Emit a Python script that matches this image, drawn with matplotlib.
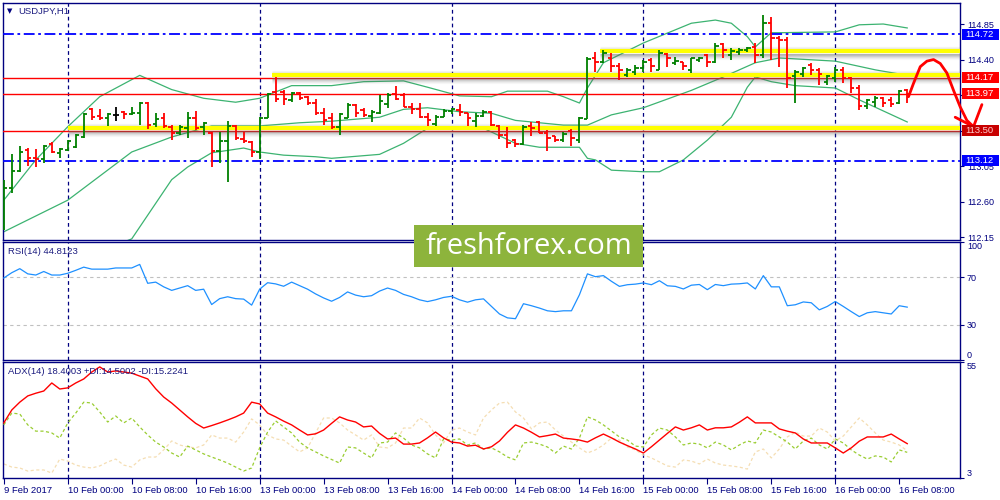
import numpy as np
import matplotlib
matplotlib.use('Agg')
import matplotlib.pyplot as plt
from matplotlib.collections import LineCollection
from matplotlib.patches import Rectangle
import matplotlib.transforms as mtransforms

plt.rcParams['font.family'] = ['Liberation Sans', 'DejaVu Sans']

NAVY = '#000080'
TXT = '#1c1c80'

# ---------------- data ----------------
opens = [112.31,112.77,112.99,113.26,113.15,113.14,113.33,113.22,113.26,113.29,
 113.42,113.77,113.69,113.66,113.70,113.74,113.71,113.72,113.85,113.58,
 113.66,113.55,113.47,113.53,113.66,113.55,113.47,113.24,113.37,113.56,
 113.39,113.36,113.23,113.66,113.99,113.99,113.89,113.98,113.93,113.85,
 113.72,113.66,113.55,113.66,113.83,113.76,113.69,113.72,113.84,113.96,
 113.95,113.80,113.77,113.67,113.58,113.67,113.75,113.76,113.72,113.62,
 113.69,113.74,113.56,113.45,113.38,113.33,113.56,113.61,113.47,113.43,
 113.38,113.50,113.38,113.65,114.42,114.37,114.42,114.32,114.21,114.24,
 114.29,114.40,114.27,114.47,114.36,114.37,114.27,114.40,114.46,114.37,
 114.60,114.46,114.50,114.52,114.56,114.46,114.86,114.67,114.65,114.19,
 114.22,114.33,114.27,114.12,114.17,114.27,114.17,114.04,113.81,113.86,
 113.91,113.89,113.85,114.02]
highs = [112.88,113.21,113.31,113.28,113.27,113.32,113.36,113.28,113.38,113.46,
 113.72,113.79,113.77,113.72,113.80,113.75,113.80,113.86,113.86,113.72,
 113.72,113.57,113.57,113.74,113.75,113.61,113.48,113.48,113.62,113.57,
 113.48,113.37,113.67,113.98,114.18,114.02,113.99,113.99,113.94,113.90,
 113.79,113.72,113.72,113.85,113.84,113.79,113.76,113.95,113.98,114.07,
 113.98,113.85,113.85,113.72,113.70,113.77,113.79,113.84,113.72,113.72,
 113.76,113.75,113.57,113.55,113.39,113.57,113.61,113.62,113.51,113.43,
 113.48,113.52,113.67,114.43,114.50,114.52,114.48,114.36,114.29,114.33,
 114.40,114.42,114.52,114.48,114.43,114.37,114.42,114.43,114.47,114.61,
 114.61,114.55,114.55,114.56,114.61,114.96,114.94,114.70,114.69,114.27,
 114.31,114.36,114.29,114.21,114.31,114.31,114.18,114.08,113.90,113.94,
 113.93,113.93,114.02,114.03]
lows = [112.24,112.71,112.98,113.05,113.04,113.09,113.22,113.15,113.24,113.28,
 113.41,113.64,113.64,113.56,113.62,113.65,113.70,113.57,113.52,113.55,
 113.53,113.38,113.45,113.41,113.51,113.45,113.04,113.09,112.85,113.38,
 113.34,113.17,113.14,113.66,113.86,113.83,113.86,113.89,113.83,113.70,
 113.57,113.52,113.45,113.66,113.67,113.67,113.61,113.71,113.79,113.89,
 113.80,113.71,113.66,113.56,113.56,113.67,113.71,113.69,113.56,113.55,
 113.67,113.56,113.39,113.28,113.29,113.32,113.43,113.47,113.24,113.36,
 113.36,113.31,113.34,113.65,114.24,114.36,114.24,114.14,114.18,114.21,
 114.24,114.24,114.27,114.31,114.33,114.27,114.23,114.37,114.31,114.36,
 114.42,114.39,114.46,114.50,114.36,114.42,114.39,114.31,114.04,113.85,
 114.18,114.21,114.08,114.08,114.12,114.10,113.98,113.76,113.77,113.80,
 113.80,113.80,113.84,113.85]
closes = [112.77,112.99,113.23,113.15,113.14,113.31,113.23,113.27,113.37,113.45,
 113.71,113.67,113.66,113.71,113.70,113.71,113.72,113.85,113.57,113.65,
 113.56,113.47,113.55,113.66,113.53,113.60,113.24,113.37,113.56,113.41,
 113.37,113.23,113.66,113.96,113.90,113.90,113.98,113.91,113.85,113.72,
 113.64,113.55,113.71,113.83,113.72,113.70,113.74,113.88,113.95,113.90,
 113.80,113.77,113.67,113.64,113.67,113.75,113.77,113.74,113.66,113.69,
 113.74,113.57,113.45,113.34,113.33,113.55,113.53,113.47,113.41,113.38,
 113.46,113.41,113.66,114.41,114.37,114.48,114.32,114.27,114.27,114.29,
 114.37,114.32,114.48,114.42,114.38,114.32,114.42,114.42,114.37,114.57,
 114.52,114.51,114.52,114.55,114.46,114.86,114.67,114.65,114.17,114.24,
 114.29,114.27,114.22,114.19,114.27,114.17,114.04,113.81,113.89,113.91,
 113.85,113.84,114.00,113.97]

# Bollinger bands (bar index, price)
bb_up_x = [0, 4, 8, 12, 17, 21, 25, 29, 32, 36, 41, 45, 50, 53, 57, 61, 63, 68, 70, 72, 73,
           75, 80, 86, 89, 91, 93, 94, 96, 97, 104, 107, 110, 113]
bb_up = [112.62, 113.13, 113.55, 113.93, 114.20, 114.02, 113.91, 113.86, 113.91, 114.07, 114.07,
         114.12, 114.13, 114.05, 113.94, 113.93, 114.00, 114.00, 113.93, 113.85, 114.04,
         114.36, 114.61, 114.86, 114.90, 114.86, 114.69, 114.56, 114.74, 114.74, 114.75,
         114.84, 114.85, 114.80]
bb_mid_x = [0, 8, 16, 21, 26, 32, 37, 41, 47, 50, 53, 57, 61, 64, 70, 73, 76, 80, 86, 90, 94,
            97, 104, 109, 113]
bb_mid = [112.22, 112.62, 113.23, 113.42, 113.56, 113.56, 113.60, 113.62, 113.67, 113.77,
          113.79, 113.74, 113.72, 113.63, 113.57, 113.57, 113.70, 113.79, 114.01, 114.18,
          114.36, 114.42, 114.38, 114.27, 114.20]
bb_lo_x = [0, 4, 8, 12, 16, 21, 23, 26, 30, 32, 35, 39, 41, 47, 50, 53, 56, 60, 64, 67, 72, 73,
           74, 76, 80, 82, 85, 88, 91, 93, 94, 96, 99, 104, 107, 113]
bb_lo = [111.82, 111.70, 111.69, 111.97, 112.13, 112.88, 113.04, 113.22, 113.28, 113.23,
         113.19, 113.17, 113.15, 113.20, 113.34, 113.53, 113.53, 113.53, 113.34, 113.29,
         113.29, 113.15, 113.13, 113.00, 112.98, 112.98, 113.13, 113.38, 113.67, 114.05,
         114.18, 114.12, 114.07, 114.04, 113.89, 113.61]

rsi = [69.5, 74, 77.4, 73, 72, 75, 72, 72, 73.5, 76, 78.7, 77, 77, 77, 78, 78, 78, 81, 65, 66,
       62, 59, 61, 63, 59, 60, 47, 52, 53.6, 52, 51.6, 46.5, 60, 65.5, 64.5, 62.5, 66, 63, 60, 56,
       52.6, 49.8, 53, 57.7, 55, 53.6, 54.5, 58.4, 61, 59, 55.6, 53.6, 51, 49.5, 51, 53, 54, 51, 49, 51,
       51.8, 45.4, 39, 35.7, 35, 47.7, 46, 44, 41.7, 41, 41.7, 41.7, 55.3, 73, 70.6, 71.5, 66.7, 62.4,
       63.8, 64.3, 65.3, 63.8, 67.2, 62.9, 62.4, 60.2, 63.4, 64, 59.6, 64, 63, 64.3, 64.6, 65.3, 60.2,
       71.5, 62, 62, 46, 46.8, 49.2, 48.5, 42.5, 45.4, 49.6, 45.4, 41, 36.8, 40, 41, 40, 39, 46, 44.8]

adx = [27.7, 33.5, 37, 39.8, 41, 42, 45.6, 42.9, 43.4, 45.6, 47.4, 50.5, 52.8, 50.5, 51, 50.5, 50,
       48.7, 47.4, 43, 39.3, 36.6, 33.5, 30.4, 27.5, 25.4, 26.5, 27.7, 29, 30.4, 32.1, 37, 36.2,
       32.1, 30.4, 28.5, 26.8, 24.5, 22.3, 22.8, 24.5, 27.5, 30.4, 29, 28.1, 25.9, 26.3, 23, 20.5,
       20.9, 18.2, 18.2, 18.7, 21, 23.6, 21, 19.1, 18.7, 17.3, 17.7, 16, 17, 19.6, 23.5, 26.8, 25.4,
       23.5, 21.4, 22, 22.7, 20.9, 20.5, 20, 19.1, 21, 22.7, 21, 19.1, 17.5, 16, 14.2, 17, 20, 23,
       25.9, 24.5, 25.5, 26.8, 24.5, 25.5, 25.5, 25.9, 28, 30.4, 27.7, 27.7, 27.7, 25, 24, 23.2,
       20.5, 18.7, 18.7, 18.7, 16.5, 14.2, 16.5, 19.5, 21.4, 21.4, 21.4, 22.7, 20.5, 18.4]
plus_di = [26.8, 32.1, 31.7, 26.8, 24, 24, 23.2, 20.9, 27.7, 32.1, 37, 36.6, 32.6, 28.1, 30.8,
           27.7, 29.9, 25.9, 22.3, 19.1, 16.9, 14.2, 12.4, 17.3, 15.6, 13.8, 12.4, 11.1, 9.7, 7.9,
           6.1, 7.5, 16.5, 23.6, 28.6, 25.9, 23.2, 19.1, 16.5, 14.7, 12.9, 11.3, 9.7, 16.9, 16.5,
           14.2, 12, 18.7, 19.1, 23.2, 20.9, 17.8, 16.5, 13.8, 12, 20.5, 20, 20.5, 17.8, 18.7, 16,
           16.5, 14.7, 12.4, 11.1, 18.7, 19.1, 18.2, 16.9, 14.2, 17.3, 16, 20.9, 30.4, 29, 26.8,
           24.1, 21.4, 20, 17.3, 16.9, 22.3, 25.4, 24.5, 21.4, 17.8, 18.7, 18.2, 16.5, 19.1, 17.8,
           15.6, 17.8, 19.6, 18.7, 24.5, 23.6, 21.4, 19.1, 16, 19.6, 20.9, 17.8, 16, 20.5, 18.7,
           15.6, 13.3, 11.5, 12.9, 12.4, 10.2, 15.6, 14.5]
minus_di = [9.3, 7.9, 7.5, 6.1, 6.6, 6.6, 5.2, 11.5, 10.6, 8.8, 7.9, 7.5, 8.4, 10.2, 11.5, 8.8,
            7.9, 11.1, 12.4, 12.4, 15.6, 19.6, 17.8, 16.9, 16.5, 17.8, 22.3, 20.9, 20.9, 19.1, 23.6,
            29.5, 26.8, 22.3, 20.5, 20, 17.3, 14.7, 16.5, 23.2, 29.9, 29.9, 27.7, 24.5, 22.3, 20,
            22.3, 16.9, 16.5, 18.7, 25.4, 25.4, 29.9, 27.7, 22.3, 18.7, 24.5, 25.4, 23.6, 22.3,
            29.9, 33.5, 36.6, 37, 32.6, 29.9, 25, 27.7, 28.1, 24.5, 21.8, 19.1, 16.5, 14.2, 15.6,
            17.8, 20.9, 20, 16.9, 15.6, 13.3, 12, 10.2, 8.4, 7.9, 11.1, 10.6, 9.3, 11.5, 9.7, 8.8,
            8.4, 7.9, 7, 14.7, 16, 12, 16, 21.4, 23.6, 21.8, 21.8, 25.4, 23.6, 19.6, 21.8, 25.9,
            29.9, 26.8, 23.2, 20, 19.1, 17.8, 15.2]

date_label_bars = [0, 8, 16, 24, 32, 40, 48, 56, 64, 72, 80, 88, 96, 104, 112]
date_labels = ['9 Feb 2017', '10 Feb 00:00', '10 Feb 08:00', '10 Feb 16:00', '13 Feb 00:00',
               '13 Feb 08:00', '13 Feb 16:00', '14 Feb 00:00', '14 Feb 08:00', '14 Feb 16:00',
               '15 Feb 00:00', '15 Feb 08:00', '15 Feb 16:00', '16 Feb 00:00', '16 Feb 08:00']
day_separators = [8, 32, 56, 80, 104]

price_ticks = [114.85, 114.40, 113.95, 113.50, 113.05, 112.60, 112.15]
hidden_price_ticks = [113.95, 113.50]   # covered by the price boxes in the reference
red_levels = [114.17, 113.97, 113.50]
blue_levels = [114.72, 113.12]
yellow_zones = [(114.51, 74.6), (114.20, 33.6), (113.54, 8.0)]   # (price, start bar)
price_boxes = [(114.72, '#0000ff', 'white'), (114.17, '#ff0000', 'white'),
               (113.97, '#ff0000', 'white'), (113.50, '#c80000', '#ffd0d0'),
               (113.12, '#0000ff', 'white')]
arrow_x = [113.16, 113.79, 114.63, 115.46, 116.29, 117.13, 117.96, 118.79, 119.63, 120.46, 121.29]
arrow_y = [113.93, 114.10, 114.31, 114.38, 114.40, 114.35, 114.23, 114.01, 113.80, 113.63, 113.55]
arrow_head = [(119.0, 113.67), (121.29, 113.55), (122.34, 113.83)]

# ---------------- figure ----------------
fig = plt.figure(figsize=(10, 5), dpi=100)
ax1 = fig.add_axes([0.003, 0.52, 0.957, 0.474])
ax2 = fig.add_axes([0.003, 0.28, 0.957, 0.236])
ax3 = fig.add_axes([0.003, 0.044, 0.957, 0.232])
XL = (-0.1, 119.6)
PX = 1.0 / 79.0   # price per pixel

for ax in (ax1, ax2, ax3):
    ax.set_xlim(*XL)
    for sp in ax.spines.values():
        sp.set_color(NAVY)
        sp.set_linewidth(1.0)
    ax.yaxis.tick_right()
    ax.tick_params(axis='y', direction='out', length=3, width=0.8, color=NAVY,
                   labelcolor=NAVY, labelsize=6.5, pad=2)
    for d in day_separators:
        ax.axvline(d, color=NAVY, lw=0.9, dashes=(3, 2.5), zorder=1)

# ---- main price panel ----
ax1.set_ylim(112.116, 115.116)
ax1.set_xticks([])
ax1.set_yticks(price_ticks)
ax1.set_yticklabels(['' if v in hidden_price_ticks else f'{v:.2f}' for v in price_ticks])

for xs, ys in ((bb_up_x, bb_up), (bb_mid_x, bb_mid), (bb_lo_x, bb_lo)):
    ax1.plot(xs, ys, color='#3cb371', lw=0.9, zorder=2)

for lv in red_levels:
    ax1.axhline(lv, color='#ff0000', lw=1.0, zorder=3)
for lv in blue_levels:
    ax1.axhline(lv, color='#0000ff', lw=1.3, dashes=(6, 2, 1.5, 2), zorder=3)

for lv, x0 in yellow_zones:
    for k, a in enumerate([0.45, 0.35, 0.25, 0.16, 0.09, 0.04]):
        ax1.plot([x0, XL[1]], [lv - (3 + k) * PX] * 2, color='#606060', alpha=a, lw=0.9,
                 solid_capstyle='butt', zorder=3.5)
    for k, a in enumerate([0.15, 0.08]):
        ax1.plot([x0, XL[1]], [lv + (3 + k) * PX] * 2, color='#808080', alpha=a, lw=0.9,
                 solid_capstyle='butt', zorder=3.5)
    ax1.plot([x0, XL[1]], [lv, lv], color='#ffff00', lw=3.0, solid_capstyle='butt', zorder=4)

segs, cols = [], []
for i, (o, h, l, c) in enumerate(zip(opens, highs, lows, closes)):
    col = '#008000' if c > o else ('#ff0000' if c < o else '#000000')
    segs += [[(i, l), (i, h)], [(i - 0.4, o), (i, o)], [(i, c), (i + 0.4, c)]]
    cols += [col] * 3
ax1.add_collection(LineCollection(segs, colors=cols, linewidths=1.3, zorder=5))

# price boxes on the right
bt = mtransforms.blended_transform_factory(ax1.transAxes, ax1.transData)
bh = 11 * PX
for val, fc, tc in price_boxes:
    ax1.add_patch(Rectangle((1.002, val - bh / 2), 0.0385, bh, transform=bt, fc=fc, ec='none',
                            clip_on=False, zorder=20))
    ax1.text(1.006, val, f'{val:.2f}', transform=bt, color=tc, fontsize=6.8, va='center',
             ha='left', zorder=21, clip_on=False)

# hand drawn arrow
ax1.plot(arrow_x, arrow_y, color='#ff0000', lw=2.0, clip_on=False, solid_capstyle='round',
         solid_joinstyle='round', zorder=9)
hx, hy = zip(*arrow_head)
ax1.plot(hx, hy, color='#ff0000', lw=2.0, clip_on=False, solid_capstyle='round',
         solid_joinstyle='round', zorder=9)

# ---- RSI panel ----
ax2.set_ylim(0, 100)
ax2.set_xticks([])
ax2.plot(range(len(rsi)), rsi, color='#1e90ff', lw=0.9, zorder=3)
for lv in (70, 30):
    ax2.axhline(lv, color='#c0c0c0', lw=0.8, dashes=(3, 3), zorder=2)
ax2.set_yticks([0, 30, 70, 100])
ax2.set_yticklabels(['0', '30', '70', '100'])
lbls = ax2.get_yticklabels()
lbls[0].set_va('bottom')
lbls[3].set_va('top')

# ---- ADX panel ----
ax3.set_ylim(3, 55)
ax3.plot(range(len(minus_di)), minus_di, color='#f5deb3', lw=0.9, dashes=(2.5, 2), zorder=2)
ax3.plot(range(len(plus_di)), plus_di, color='#9acd32', lw=0.9, dashes=(2.5, 2), zorder=3)
ax3.plot(range(len(adx)), adx, color='#ff0000', lw=1.0, zorder=4)
ax3.set_yticks([3, 55])
ax3.set_yticklabels(['3', '55'])
lb3 = ax3.get_yticklabels()
lb3[0].set_va('bottom')
lb3[1].set_va('top')
ax3.set_xticks(date_label_bars)
ax3.set_xticklabels(date_labels)
ax3.tick_params(axis='x', direction='out', length=4, width=0.8, color=NAVY, labelcolor=NAVY,
                labelsize=6.8, pad=2)
for t in ax3.get_xticklabels():
    t.set_ha('left')

# ---- texts ----
fig.text(0.0065, 0.978, '\u25BC', fontsize=5, color=NAVY, family='DejaVu Sans', va='center')
fig.text(0.018, 0.978, 'USDJPY,H1', fontsize=6.8, color=TXT, va='center')
fig.text(0.008, 0.496, 'RSI(14) 44.8123', fontsize=6.8, color=TXT, va='center')
fig.text(0.008, 0.256, 'ADX(14) 18.4003 +DI:14.5002 -DI:15.2241', fontsize=6.8, color=TXT,
         va='center')

# watermark
fig.add_artist(Rectangle((0.414, 0.466), 0.229, 0.084, transform=fig.transFigure,
                         fc='#8db43c', ec='none', zorder=10))
fig.text(0.5285, 0.506, 'freshforex.com', color='white', fontsize=21, family='Open Sans',
         ha='center', va='center', zorder=11)

fig.savefig('out.png', dpi=100, facecolor='white')
